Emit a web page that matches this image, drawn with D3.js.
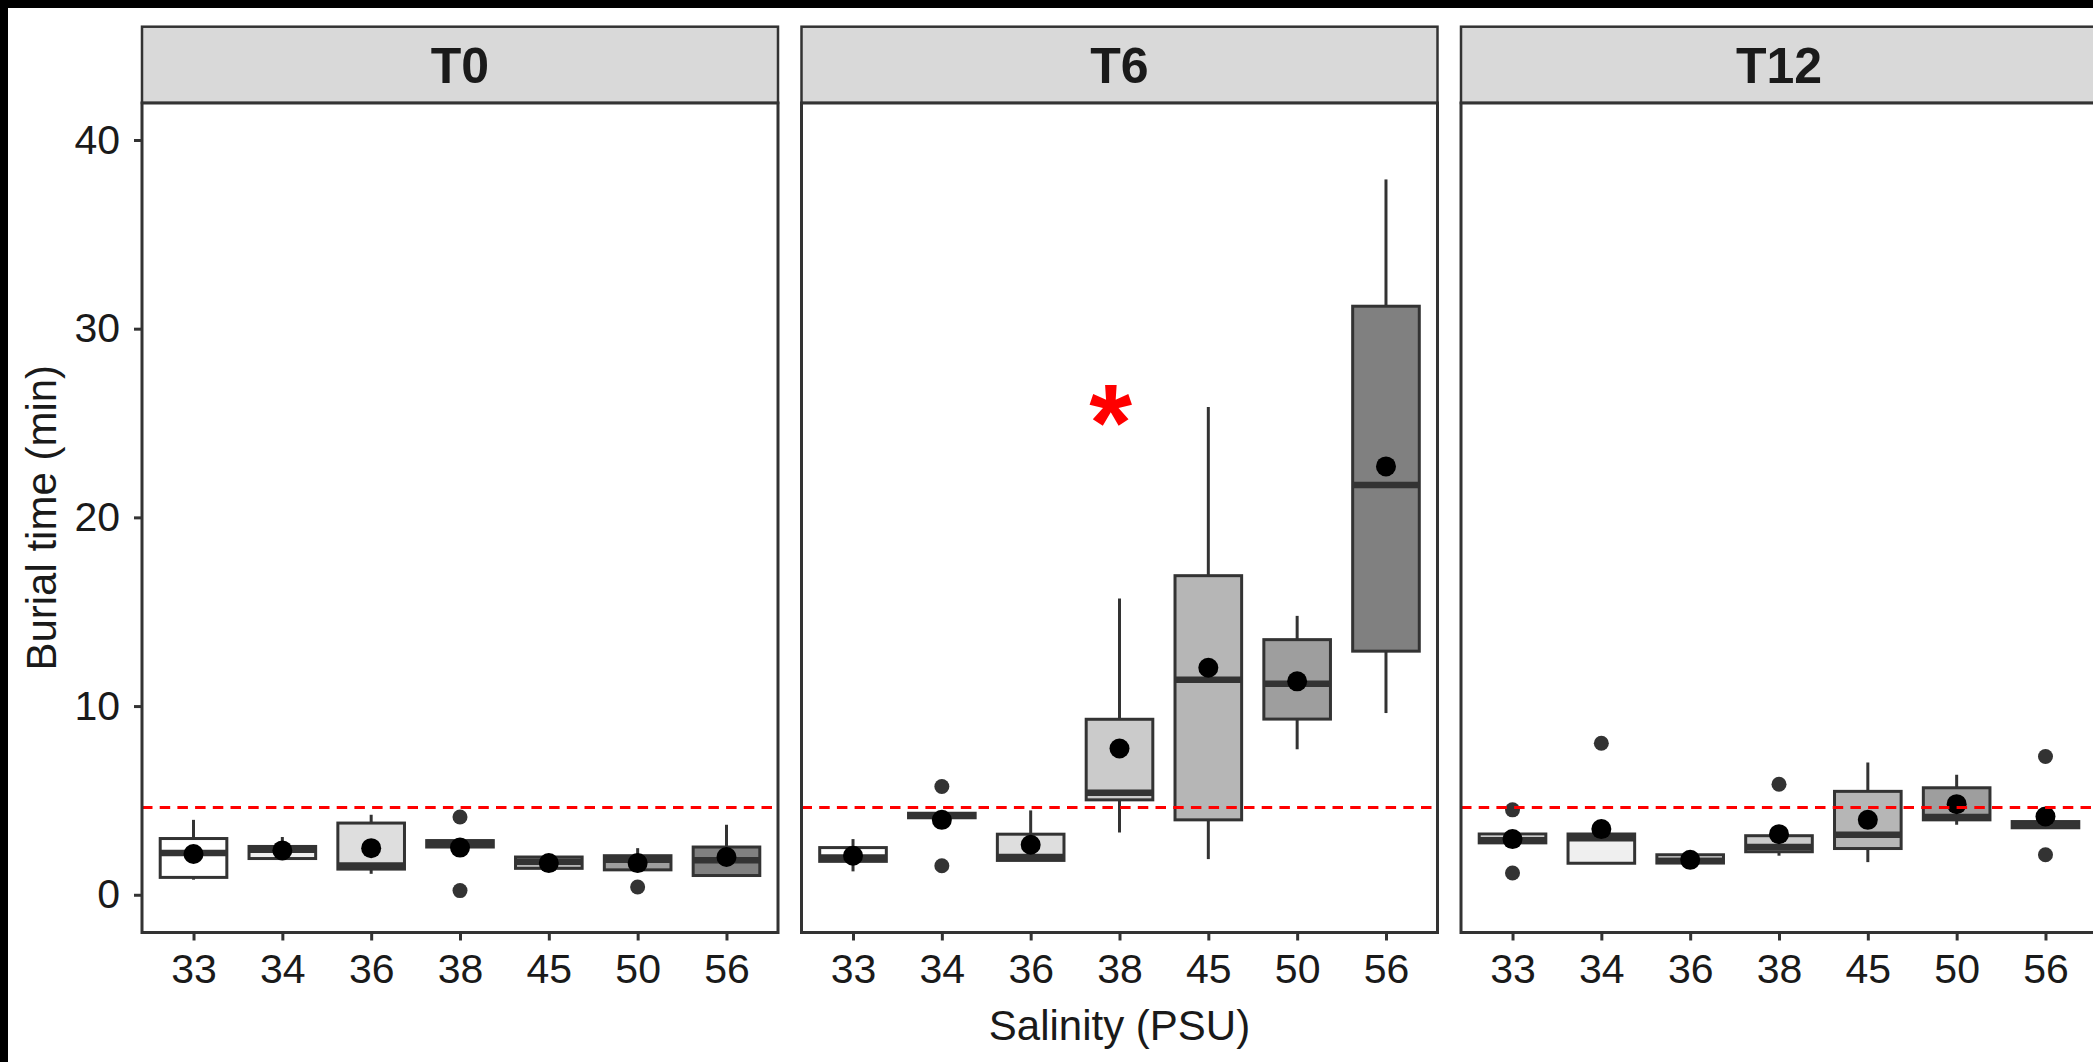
<!DOCTYPE html>
<html>
<head>
<meta charset="utf-8">
<script src="https://cdn.jsdelivr.net/npm/d3@7"></script>
<style>
  html, body { margin: 0; padding: 0; background: #000; }
  svg { display: block; }
  text { font-family: "Liberation Sans", Arial, Helvetica, sans-serif; }
</style>
</head>
<body>
<svg id="chart" width="2093" height="1062"></svg>
<script>
// Burial time (min) by salinity (PSU), one facet per sampling time
const salinity = ["33", "34", "36", "38", "45", "50", "56"];
const times = ["T0", "T6", "T12"];

// Box statistics: one row per time (T0, T6, T12), one value per salinity
const lowerWhisker = [
  [0.80, 1.92, 1.11, 2.53, 1.40, 1.20, 1.02],
  [1.24, 4.08, 1.82, 3.30, 1.89, 7.71, 9.63],
  [2.75, 1.67, 1.68, 2.07, 1.73, 3.71, 3.55]
];
const q1 = [
  [0.92, 1.92, 1.36, 2.53, 1.40, 1.32, 1.02],
  [1.77, 4.08, 1.82, 5.03, 3.97, 9.31, 12.91],
  [2.75, 1.67, 1.68, 2.28, 2.45, 3.97, 3.55]
];
const median = [
  [2.21, 2.38, 1.55, 2.75, 1.75, 1.85, 1.83],
  [1.97, 4.20, 2.00, 5.40, 11.39, 11.18, 21.72],
  [2.90, 3.00, 1.80, 2.53, 3.18, 4.12, 3.71]
];
const q3 = [
  [2.98, 2.56, 3.80, 2.87, 2.00, 2.07, 2.53],
  [2.50, 4.32, 3.21, 9.30, 16.91, 13.52, 31.19],
  [3.22, 3.22, 2.12, 3.13, 5.48, 5.67, 3.88]
];
const upperWhisker = [
  [3.97, 3.06, 4.24, 2.87, 2.00, 2.47, 3.71],
  [2.95, 4.32, 4.47, 15.70, 25.85, 14.78, 37.91],
  [3.22, 3.22, 2.12, 3.13, 7.01, 6.36, 3.88]
];
const means = [
  [2.16, 2.35, 2.47, 2.50, 1.68, 1.68, 2.00],
  [2.07, 3.97, 2.65, 7.75, 12.03, 11.31, 22.70],
  [2.95, 3.48, 1.85, 3.21, 3.97, 4.80, 4.15]
];
const outliers = [
  [[], [], [], [4.12, 0.22], [], [0.41], []],
  [[], [5.74, 1.54], [], [], [], [], []],
  [[4.50, 1.15], [8.03], [], [5.86], [], [], [7.33, 2.12]]
];

// Reference level and significance mark
const referenceLevel = 4.63;
const markTime = "T6";
const markPosition = 3.9;   // position along the salinity axis (1 = first level)
const markValue = 25.9;
const markLabel = "*";

const yTicks = [0, 10, 20, 30, 40];
const fills = ["#FFFFFF", "#EFEFEF", "#DEDEDE", "#CBCBCB", "#B6B6B6", "#9E9E9E", "#808080"];

// Layout
const W = 2093, H = 1062;
const panelW = 636, panelTop = 103, panelBottom = 932.5;
const panelStep = 659.5, firstPanelLeft = 142;
const stripTop = 26.7;
const ink = "#333333", textInk = "#1a1a1a";
const markSize = 110;

const svg = d3.select("#chart");

// black edge at the top and left, white canvas elsewhere
svg.append("rect").attr("width", W).attr("height", H).attr("fill", "#000");
svg.append("rect").attr("x", 8).attr("y", 8).attr("width", W - 8).attr("height", H - 8).attr("fill", "#fff");

const y = d3.scaleLinear().domain([-2.0, 41.96]).range([panelBottom, panelTop]);
const x = d3.scalePoint().domain(salinity).range([0, panelW]).padding(0.58);
const step = x.step();
const boxW = step * 0.75;
const fillScale = d3.scaleOrdinal().domain(salinity).range(fills);

times.forEach((t, ti) => {
  const left = firstPanelLeft + ti * panelStep;
  const g = svg.append("g").attr("transform", `translate(${left},0)`);

  // strip
  g.append("rect")
    .attr("x", 0).attr("y", stripTop)
    .attr("width", panelW).attr("height", panelTop - stripTop)
    .attr("fill", "#D9D9D9").attr("stroke", ink).attr("stroke-width", 2.5);
  g.append("text")
    .attr("x", panelW / 2).attr("y", (stripTop + panelTop) / 2 + 0.358 * 50)
    .attr("text-anchor", "middle")
    .attr("font-size", 50).attr("font-weight", "bold")
    .attr("fill", textInk)
    .text(t);

  // panel background
  g.append("rect")
    .attr("x", 0).attr("y", panelTop)
    .attr("width", panelW).attr("height", panelBottom - panelTop)
    .attr("fill", "#fff");

  const rows = salinity.map((s, i) => ({
    s, lo: lowerWhisker[ti][i], q1: q1[ti][i], med: median[ti][i],
    q3: q3[ti][i], hi: upperWhisker[ti][i], mean: means[ti][i], out: outliers[ti][i]
  }));

  const box = g.selectAll("g.box").data(rows).join("g").attr("class", "box");

  // whiskers
  box.append("line")
    .attr("x1", d => x(d.s)).attr("x2", d => x(d.s))
    .attr("y1", d => y(d.q3)).attr("y2", d => y(d.hi))
    .attr("stroke", ink).attr("stroke-width", 3);
  box.append("line")
    .attr("x1", d => x(d.s)).attr("x2", d => x(d.s))
    .attr("y1", d => y(d.q1)).attr("y2", d => y(d.lo))
    .attr("stroke", ink).attr("stroke-width", 3);

  // boxes
  box.append("rect")
    .attr("x", d => x(d.s) - boxW / 2).attr("width", boxW)
    .attr("y", d => y(d.q3)).attr("height", d => Math.max(0.5, y(d.q1) - y(d.q3)))
    .attr("fill", d => fillScale(d.s))
    .attr("stroke", ink).attr("stroke-width", 3);

  // medians
  box.append("line")
    .attr("x1", d => x(d.s) - boxW / 2).attr("x2", d => x(d.s) + boxW / 2)
    .attr("y1", d => y(d.med)).attr("y2", d => y(d.med))
    .attr("stroke", ink).attr("stroke-width", 6.5);

  // outliers
  box.selectAll("circle.out").data(d => d.out.map(v => ({ s: d.s, v }))).join("circle")
    .attr("class", "out")
    .attr("cx", d => x(d.s)).attr("cy", d => y(d.v)).attr("r", 7.5)
    .attr("fill", ink);

  // means
  box.append("circle")
    .attr("cx", d => x(d.s)).attr("cy", d => y(d.mean)).attr("r", 10)
    .attr("fill", "#000");

  // reference level
  g.append("line")
    .attr("x1", 0).attr("x2", panelW)
    .attr("y1", y(referenceLevel)).attr("y2", y(referenceLevel))
    .attr("stroke", "#FF0000").attr("stroke-width", 3)
    .attr("stroke-dasharray", "10.5,7.2");

  if (t === markTime) {
    g.append("text")
      .attr("x", x(salinity[0]) + (markPosition - 1) * step)
      .attr("y", y(markValue) + 0.49 * markSize)
      .attr("text-anchor", "middle")
      .attr("font-size", markSize).attr("font-weight", "bold")
      .attr("fill", "#FF0000")
      .text(markLabel);
  }

  // panel border
  g.append("rect")
    .attr("x", 0).attr("y", panelTop)
    .attr("width", panelW).attr("height", panelBottom - panelTop)
    .attr("fill", "none").attr("stroke", ink).attr("stroke-width", 3);

  // x axis
  const xa = g.append("g").attr("transform", `translate(0,${panelBottom})`)
    .call(d3.axisBottom(x).tickSize(8).tickPadding(13));
  xa.select(".domain").remove();
  xa.selectAll(".tick line").attr("stroke", ink).attr("stroke-width", 3);
  xa.selectAll(".tick text").attr("font-size", 41).attr("fill", textInk)
    .attr("font-family", "Liberation Sans, Arial, sans-serif");

  // y axis on the first panel only
  if (ti === 0) {
    const ya = g.append("g")
      .call(d3.axisLeft(y).tickValues(yTicks).tickSize(8).tickPadding(14));
    ya.select(".domain").remove();
    ya.selectAll(".tick line").attr("stroke", ink).attr("stroke-width", 3);
    ya.selectAll(".tick text").attr("font-size", 41).attr("fill", textInk)
      .attr("font-family", "Liberation Sans, Arial, sans-serif");
  }
});

// axis titles
const plotLeft = firstPanelLeft;
const plotRight = firstPanelLeft + 2 * panelStep + panelW;
svg.append("text")
  .attr("x", (plotLeft + plotRight) / 2).attr("y", 1040)
  .attr("text-anchor", "middle")
  .attr("font-size", 42).attr("fill", textInk)
  .text("Salinity (PSU)");

svg.append("text")
  .attr("transform", `translate(56,${(panelTop + panelBottom) / 2}) rotate(-90)`)
  .attr("text-anchor", "middle")
  .attr("font-size", 42).attr("fill", textInk)
  .text("Burial time (min)");
</script>
</body>
</html>
